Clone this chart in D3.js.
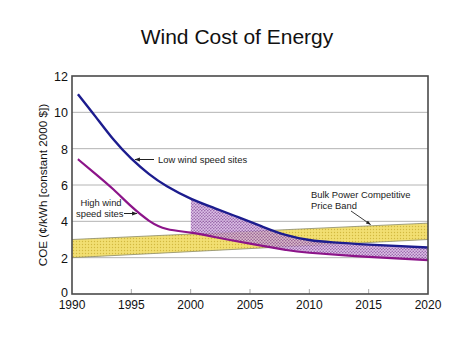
<!DOCTYPE html>
<html>
<head>
<meta charset="utf-8">
<script src="https://cdn.jsdelivr.net/npm/d3@7"></script>
<style>
  body { margin: 0; background: #fff; }
  svg { font-family: "Liberation Sans", Arial, sans-serif; }
</style>
</head>
<body>
<div id="chart"></div>
<script>
// values
const lowYears  = [1990.5, 1992, 1993.5, 1995, 1996.5, 1998, 2000, 2002, 2004, 2006, 2008, 2010, 2012, 2015, 2020];
const lowCOE    = [11.0, 9.75, 8.5, 7.45, 6.6, 5.93, 5.25, 4.73, 4.23, 3.72, 3.25, 2.97, 2.84, 2.72, 2.56];
const highYears = [1990.5, 1992, 1993.5, 1995, 1996.5, 1998, 2000, 2002, 2005, 2008, 2010, 2015, 2020];
const highCOE   = [7.42, 6.6, 5.75, 4.82, 4.03, 3.58, 3.38, 3.14, 2.77, 2.43, 2.27, 2.04, 1.86];
const bandYears = [1990, 2020];
const bandLow   = [2.0, 3.0];
const bandHigh  = [3.0, 3.9];
const xTicks = [1990, 1995, 2000, 2005, 2010, 2015, 2020];
const yTicks = [0, 2, 4, 6, 8, 10, 12];
const shadeFrom = 2000;

const width = 474, height = 354,
      margin = ({ top: 76, right: 46, bottom: 60, left: 72 });

const low  = lowYears.map((y, i) => ({ year: y, v: lowCOE[i] }));
const high = highYears.map((y, i) => ({ year: y, v: highCOE[i] }));
const band = bandYears.map((y, i) => ({ year: y, lo: bandLow[i], hi: bandHigh[i] }));

let svg = d3.select("#chart")
    .append("svg")
    .attr("width", width)
    .attr("height", height);

let x = d3.scaleLinear()
    .domain([1990, 2020])
    .range([margin.left, width - margin.right]);

let y = d3.scaleLinear()
    .domain([0, 12])
    .range([height - margin.bottom, margin.top]);

let defs = svg.append("defs");

// dotted yellow fill for the price band
let pb = defs.append("pattern")
    .attr("id", "bandDots")
    .attr("width", 3).attr("height", 3)
    .attr("patternUnits", "userSpaceOnUse");
pb.append("rect").attr("width", 3).attr("height", 3).attr("fill", "#f2df72");
pb.append("circle").attr("cx", 1.5).attr("cy", 1.5).attr("r", 0.7).attr("fill", "#d2b940");

// purple cross-hatch between the two curves
let ph = defs.append("pattern")
    .attr("id", "hatch")
    .attr("width", 3).attr("height", 3)
    .attr("patternUnits", "userSpaceOnUse");
ph.append("rect").attr("width", 3).attr("height", 3).attr("fill", "#d4b2e0");
ph.append("circle").attr("cx", 0.75).attr("cy", 0.75).attr("r", 0.8).attr("fill", "#84469a");
ph.append("circle").attr("cx", 2.25).attr("cy", 2.25).attr("r", 0.8).attr("fill", "#84469a");

let arrow = defs.append("marker")
    .attr("id", "arrow")
    .attr("viewBox", "0 0 10 10")
    .attr("refX", 9).attr("refY", 5)
    .attr("markerWidth", 5.5).attr("markerHeight", 5.5)
    .attr("orient", "auto");
arrow.append("path").attr("d", "M0,1.5L10,5L0,8.5Z").attr("fill", "#222");

// gridlines
svg.append("g")
    .selectAll("line")
    .data(yTicks.filter(d => d > 0 && d < 12))
    .join("line")
    .attr("x1", x(1990)).attr("x2", x(2020))
    .attr("y1", d => y(d)).attr("y2", d => y(d))
    .attr("stroke", "#b4b4b4")
    .attr("stroke-width", 1);

// price band
svg.append("path")
    .datum(band)
    .attr("fill", "url(#bandDots)")
    .attr("d", d3.area().x(d => x(d.year)).y0(d => y(d.lo)).y1(d => y(d.hi)));
svg.append("g")
    .selectAll("path")
    .data(["lo", "hi"])
    .join("path")
    .attr("fill", "none")
    .attr("stroke", "#8a8a6a")
    .attr("stroke-width", 0.8)
    .attr("d", k => d3.line().x(d => x(d.year)).y(d => y(d[k]))(band));

// the two cost curves
const lineFn = d3.line().x(d => x(d.year)).y(d => y(d.v)).curve(d3.curveNatural);
let lowPath = svg.append("path").attr("d", lineFn(low)).attr("fill", "none");
let highPath = svg.append("path").attr("d", lineFn(high)).attr("fill", "none");

// sample the curves so the shaded area follows them exactly
function sample(pathNode, x0) {
    const len = pathNode.getTotalLength(), pts = [];
    for (let s = 0; s <= len; s += 1) {
        const p = pathNode.getPointAtLength(s);
        if (p.x >= x0) pts.push([p.x, p.y]);
    }
    const end = pathNode.getPointAtLength(len);
    pts.push([end.x, end.y]);
    return pts;
}
const upper = sample(lowPath.node(), x(shadeFrom));
const lower = sample(highPath.node(), x(shadeFrom));
svg.append("path")
    .attr("d", "M" + upper.map(p => p.join(",")).join("L") + "L" + lower.reverse().map(p => p.join(",")).join("L") + "Z")
    .attr("fill", "url(#hatch)")
    .attr("opacity", 0.82);

lowPath.attr("stroke", "#1c1c8e").attr("stroke-width", 2.4);
highPath.attr("stroke", "#8c1489").attr("stroke-width", 2.2);
lowPath.raise();
highPath.raise();

// x ticks (small, inside)
svg.append("g")
    .selectAll("line")
    .data(xTicks.slice(1, -1))
    .join("line")
    .attr("x1", d => x(d)).attr("x2", d => x(d))
    .attr("y1", y(0)).attr("y2", y(0) - 5)
    .attr("stroke", "#aaa");

// frame
svg.append("rect")
    .attr("x", x(1990)).attr("y", y(12))
    .attr("width", x(2020) - x(1990))
    .attr("height", y(0) - y(12))
    .attr("fill", "none")
    .attr("stroke", "#4a4a4a")
    .attr("stroke-width", 1.6);

// tick labels
svg.append("g")
    .selectAll("text")
    .data(xTicks)
    .join("text")
    .attr("x", d => x(d))
    .attr("y", y(0) + 15)
    .attr("text-anchor", "middle")
    .attr("font-size", 12)
    .attr("fill", "#111")
    .text(d => d);

svg.append("g")
    .selectAll("text")
    .data(yTicks)
    .join("text")
    .attr("x", x(1990) - 4)
    .attr("y", d => y(d))
    .attr("dy", d => d === 0 ? "0.2em" : "0.4em")
    .attr("text-anchor", "end")
    .attr("font-size", 12.5)
    .attr("fill", "#111")
    .text(d => d);

// title and axis label
svg.append("text")
    .attr("x", 237)
    .attr("y", 44)
    .attr("text-anchor", "middle")
    .attr("font-size", 21)
    .attr("fill", "#111")
    .text("Wind Cost of Energy");

svg.append("text")
    .attr("transform", `translate(47,${(y(0) + y(12)) / 2}) rotate(-90)`)
    .attr("text-anchor", "middle")
    .attr("font-size", 11.7)
    .attr("fill", "#111")
    .text("COE (¢/kWh [constant 2000 $])");

// annotations
const note = svg.append("g").attr("font-size", 9.4).attr("fill", "#222");

note.append("line")
    .attr("x1", 154).attr("y1", 159.5).attr("x2", 135).attr("y2", 159.5)
    .attr("stroke", "#222").attr("stroke-width", 1)
    .attr("marker-end", "url(#arrow)");
note.append("text").attr("x", 158).attr("y", 163).text("Low wind speed sites");

note.append("text").attr("x", 101).attr("y", 206).attr("text-anchor", "middle").text("High wind");
note.append("text").attr("x", 76).attr("y", 217).text("speed sites");
note.append("line")
    .attr("x1", 124).attr("y1", 213.5).attr("x2", 137).attr("y2", 213.5)
    .attr("stroke", "#222").attr("stroke-width", 1)
    .attr("marker-end", "url(#arrow)");

note.append("text").attr("x", 311).attr("y", 198).text("Bulk Power Competitive");
note.append("text").attr("x", 311).attr("y", 209).text("Price Band");
note.append("line")
    .attr("x1", 351).attr("y1", 211).attr("x2", 370.5).attr("y2", 224.5)
    .attr("stroke", "#222").attr("stroke-width", 0.9)
    .attr("marker-end", "url(#arrow)");
</script>
</body>
</html>
